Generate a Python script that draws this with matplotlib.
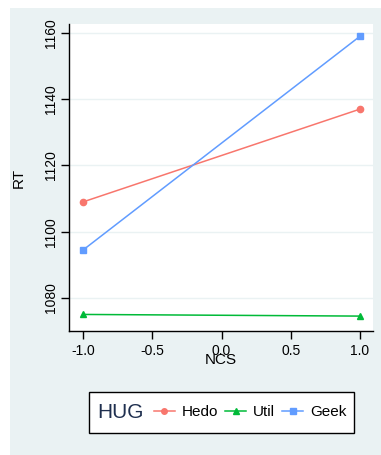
import matplotlib.pyplot as plt
from matplotlib.lines import Line2D
from matplotlib.patches import Rectangle

plt.rcParams['font.family'] = ['Liberation Sans', 'DejaVu Sans']
plt.rcParams['axes.unicode_minus'] = False

# values
ncs = [-1.0, 1.0]
hedo = [1109.0, 1137.0]
util = [1075.0, 1074.5]
geek = [1094.5, 1159.0]
xticks = [-1.0, -0.5, 0.0, 0.5, 1.0]
yticks = [1080, 1100, 1120, 1140, 1160]

bg = '#EAF2F3'
c_hedo, c_util, c_geek = '#F8766D', '#00BA38', '#619CFF'

W, H = 381, 455
fig = plt.figure(figsize=(W / 100, H / 100), dpi=100, facecolor='white')
# stata-ish outer background panel
fig.add_artist(Rectangle((10 / W, 0), 1 - 10 / W, (H - 8) / H, transform=fig.transFigure,
                         facecolor=bg, edgecolor='none', zorder=0))

ax = fig.add_axes([69 / W, (H - 331) / H, (373 - 69) / W, (331 - 24) / H])
ax.set_facecolor('white')
ax.plot(ncs, hedo, color=c_hedo, lw=1.1, marker='o', ms=4.5, label='Hedo')
ax.plot(ncs, util, color=c_util, lw=1.1, marker='^', ms=5, label='Util')
ax.plot(ncs, geek, color=c_geek, lw=1.1, marker='s', ms=4.5, label='Geek')

ax.set_xlim(-1.103, 1.094)
ax.set_ylim(1070.0, 1162.7)
ax.set_xticks(xticks)
ax.set_xticklabels(['%.1f' % v for v in xticks], fontsize=10)
ax.set_yticks(yticks)
ax.set_yticklabels([str(v) for v in yticks], fontsize=10, rotation=90, va='center')
ax.grid(axis='y', color=bg, lw=1)
ax.tick_params(direction='out', length=6, width=1, colors='black')
ax.tick_params(axis='y', pad=2)
for s in ['top', 'right']:
    ax.spines[s].set_visible(False)
for s in ['left', 'bottom']:
    ax.spines[s].set_linewidth(1)

ax.set_xlabel('NCS', fontsize=11, va='center')
ax.xaxis.set_label_coords(0.5, -0.096)
ax.set_ylabel('RT', fontsize=11, va='center')
ax.yaxis.set_label_coords(-0.164, 0.5)

# legend box with title on the left
fig.add_artist(Rectangle((89 / W, (H - 433) / H), (354 - 89) / W, 41 / H,
                         transform=fig.transFigure, facecolor='white',
                         edgecolor='black', lw=1, zorder=1))
fig.text(97 / W, (H - 412.5) / H, 'HUG', fontsize=15, color='#1F2F4F',
         va='center', ha='left', zorder=2)
handles = [Line2D([], [], color=c_hedo, marker='o', ms=4, lw=1.1),
           Line2D([], [], color=c_util, marker='^', ms=4.5, lw=1.1),
           Line2D([], [], color=c_geek, marker='s', ms=4, lw=1.1)]
fig.legend(handles, ['Hedo', 'Util', 'Geek'], ncol=3, frameon=False,
           loc='center left', bbox_to_anchor=(154 / W, (H - 412.5) / H),
           fontsize=11, handlelength=1.37, handletextpad=0.46, columnspacing=0.46,
           borderpad=0, borderaxespad=0)

fig.savefig('out.png', dpi=100, facecolor='white')
